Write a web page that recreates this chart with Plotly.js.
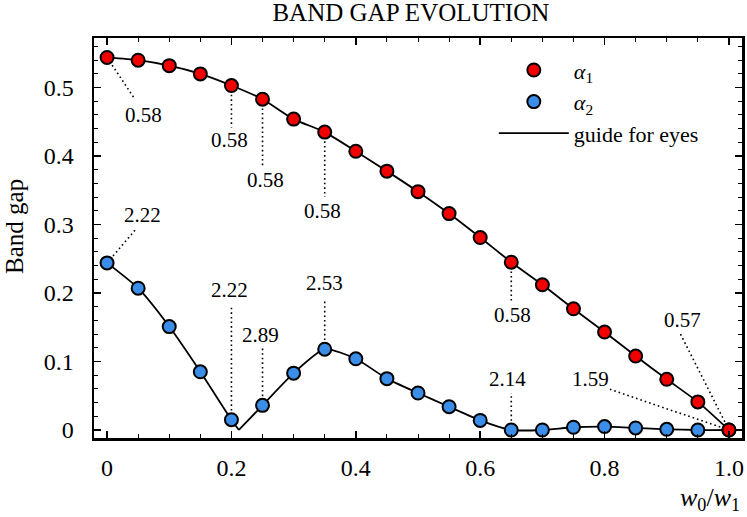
<!DOCTYPE html>
<html>
<head>
<meta charset="utf-8">
<script src="https://cdn.plot.ly/plotly-3.0.1.min.js"></script>
<style>
  html, body { margin: 0; padding: 0; background: #fff; }
  #chart { width: 747px; height: 517px; }
</style>
</head>
<body>
<div id="chart"></div>
<script>
const ratio = [0, 0.05, 0.1, 0.15, 0.2, 0.25, 0.3, 0.35, 0.4, 0.45, 0.5,
  0.55, 0.6, 0.65, 0.7, 0.75, 0.8, 0.85, 0.9, 0.95, 1.0];
const alpha1 = [0.544, 0.540, 0.532, 0.520, 0.503, 0.483, 0.454, 0.435, 0.407, 0.378, 0.348,
  0.316, 0.281, 0.245, 0.212, 0.177, 0.143, 0.108, 0.074, 0.041, 0.0];
const alpha2 = [0.244, 0.207, 0.151, 0.085, 0.015, 0.036, 0.083, 0.118, 0.104, 0.075, 0.054,
  0.034, 0.014, 0.0, 0.0, 0.004, 0.005, 0.003, 0.001, 0.0, 0.0];
// where the alpha2 guide touches zero
const alpha2DipX = 0.212;

const xTickVals = [0, 0.2, 0.4, 0.6, 0.8, 1.0];
const xTickText = ['0', '0.2', '0.4', '0.6', '0.8', '1.0'];
const yTickVals = [0, 0.1, 0.2, 0.3, 0.4, 0.5];
const yTickText = ['0', '0.1', '0.2', '0.3', '0.4', '0.5'];

// callout labels: index into ratio + text
const alpha1CalloutIdx = [0, 4, 5, 7, 13, 20];
const alpha1CalloutText = ['0.58', '0.58', '0.58', '0.58', '0.58', '0.57'];
const alpha2CalloutIdx = [0, 4, 5, 7, 13, 20];
const alpha2CalloutText = ['2.22', '2.22', '2.89', '2.53', '2.14', '1.59'];

// pixel offsets of the leader end (lx, ly) and label centre (tx, ty), y up
const alpha1Offsets = [
  { lx: 28, ly: -42, tx: 36, ty: -58 },
  { lx: 0, ly: -42, tx: -2, ty: -54 },
  { lx: 0, ly: -69, tx: 3, ty: -81 },
  { lx: 0, ly: -65, tx: -2, ty: -79 },
  { lx: 0, ly: -39, tx: 1, ty: -53 },
  { lx: -49, ly: 97, tx: -46, ty: 110 },
];
const alpha2Offsets = [
  { lx: 29, ly: 34, tx: 35, ty: 48 },
  { lx: 0, ly: 113, tx: -2, ty: 130 },
  { lx: 0, ly: 57, tx: -2, ty: 70 },
  { lx: 0, ly: 49, tx: 0, ty: 66 },
  { lx: 0, ly: 37, tx: -4, ty: 51 },
  { lx: -120, ly: 41, tx: -138, ty: 51 },
];

const RED = '#f20000';
const BLUE = '#3a8ee8';
const FONT = 'Liberation Serif, serif';

const chartEl = document.getElementById('chart');

// guide for alpha2 is split at the dip so the corner stays sharp
const leftX = ratio.filter(x => x <= 0.2).concat([alpha2DipX]);
const leftY = alpha2.slice(0, leftX.length - 1).concat([0]);
const rightX = [alpha2DipX].concat(ratio.filter(x => x > 0.2));
const rightY = [0].concat(alpha2.slice(ratio.length - (rightX.length - 1)));

const guideLine = { color: '#000', width: 1.8, shape: 'spline', smoothing: 0.6 };
const markerStyle = color => ({ color, size: 13, line: { color: '#000', width: 2 } });

const traces = [
  {
    x: ratio, y: alpha1, type: 'scatter', mode: 'lines',
    line: guideLine, name: 'guide for eyes',
    legendrank: 3,
  },
  { x: leftX, y: leftY, type: 'scatter', mode: 'lines', line: guideLine, showlegend: false },
  { x: rightX, y: rightY, type: 'scatter', mode: 'lines', line: guideLine, showlegend: false },
  {
    x: ratio, y: alpha2, type: 'scatter', mode: 'markers',
    marker: markerStyle(BLUE), name: '<i>α</i><sub>2</sub>', legendrank: 2,
  },
  {
    x: ratio, y: alpha1, type: 'scatter', mode: 'markers',
    marker: markerStyle(RED), name: '<i>α</i><sub>1</sub>', legendrank: 1,
  },
];

const shapes = [];
const annotations = [];

function addCallouts(series, idxs, texts, offsets) {
  idxs.forEach((idx, i) => {
    const o = offsets[i];
    shapes.push({
      type: 'line', layer: 'below',
      xref: 'x', yref: 'y', xsizemode: 'pixel', ysizemode: 'pixel',
      xanchor: ratio[idx], yanchor: series[idx],
      x0: 0, y0: 0, x1: o.lx, y1: o.ly,
      line: { color: '#000', width: 1.6, dash: '1.6px,3px' },
    });
    annotations.push({
      x: ratio[idx], y: series[idx], xref: 'x', yref: 'y',
      xshift: o.tx, yshift: o.ty, showarrow: false,
      xanchor: 'center', yanchor: 'middle',
      text: texts[i], font: { family: FONT, size: 21, color: '#000' },
    });
  });
}
addCallouts(alpha1, alpha1CalloutIdx, alpha1CalloutText, alpha1Offsets);
addCallouts(alpha2, alpha2CalloutIdx, alpha2CalloutText, alpha2Offsets);

// axis titles placed by hand to match the figure
annotations.push({
  text: 'Band gap', xref: 'paper', yref: 'paper', x: -0.1235, y: 0.53,
  xanchor: 'center', yanchor: 'middle',
  textangle: -90, showarrow: false, font: { family: FONT, size: 25, color: '#000' },
});
annotations.push({
  text: '<i>w</i><sub>0</sub>/<i>w</i><sub>1</sub>', xref: 'paper', yref: 'paper',
  x: 1.0, y: -0.108, xanchor: 'right', yanchor: 'top', showarrow: false,
  font: { family: FONT, size: 26, color: '#000' },
});

const axisCommon = {
  showgrid: false, zeroline: false,
  showline: true, linecolor: '#000', linewidth: 2.5, mirror: 'allticks',
  ticks: 'inside', ticklen: 7, tickwidth: 1.5, tickcolor: '#000',
  tickfont: { family: FONT, size: 24, color: '#000' },
};

const layout = {
  width: 747, height: 517,
  margin: { l: 94, r: 5, t: 38, b: 79 },
  paper_bgcolor: '#fff', plot_bgcolor: '#fff',
  font: { family: FONT, color: '#000' },
  title: {
    text: 'BAND GAP EVOLUTION', font: { family: FONT, size: 25, color: '#000' },
    xref: 'paper', x: 0.489, xanchor: 'center',
    yref: 'container', y: 0.977, yanchor: 'middle',
  },
  xaxis: Object.assign({}, axisCommon, {
    range: [-0.021, 1.021], ticklabelstandoff: 7,
    tickmode: 'array', tickvals: xTickVals, ticktext: xTickText,
    minor: { dtick: 0.05, ticks: 'inside', ticklen: 4, tickwidth: 1, tickcolor: '#000' },
  }),
  yaxis: Object.assign({}, axisCommon, {
    range: [-0.0117, 0.5724], ticklabelstandoff: 13,
    tickmode: 'array', tickvals: yTickVals, ticktext: yTickText,
    minor: { dtick: 0.02, ticks: 'inside', ticklen: 4, tickwidth: 1, tickcolor: '#000' },
  }),
  legend: {
    x: 0.617, y: 0.972, xanchor: 'left', yanchor: 'top',
    bgcolor: 'rgba(0,0,0,0)', borderwidth: 0, itemwidth: 70,
    font: { family: FONT, size: 22, color: '#000' },
  },
  showlegend: true,
  hovermode: false,
  shapes,
  annotations,
};

Plotly.newPlot(chartEl, traces, layout, { displayModeBar: false, staticPlot: true });
</script>
</body>
</html>
